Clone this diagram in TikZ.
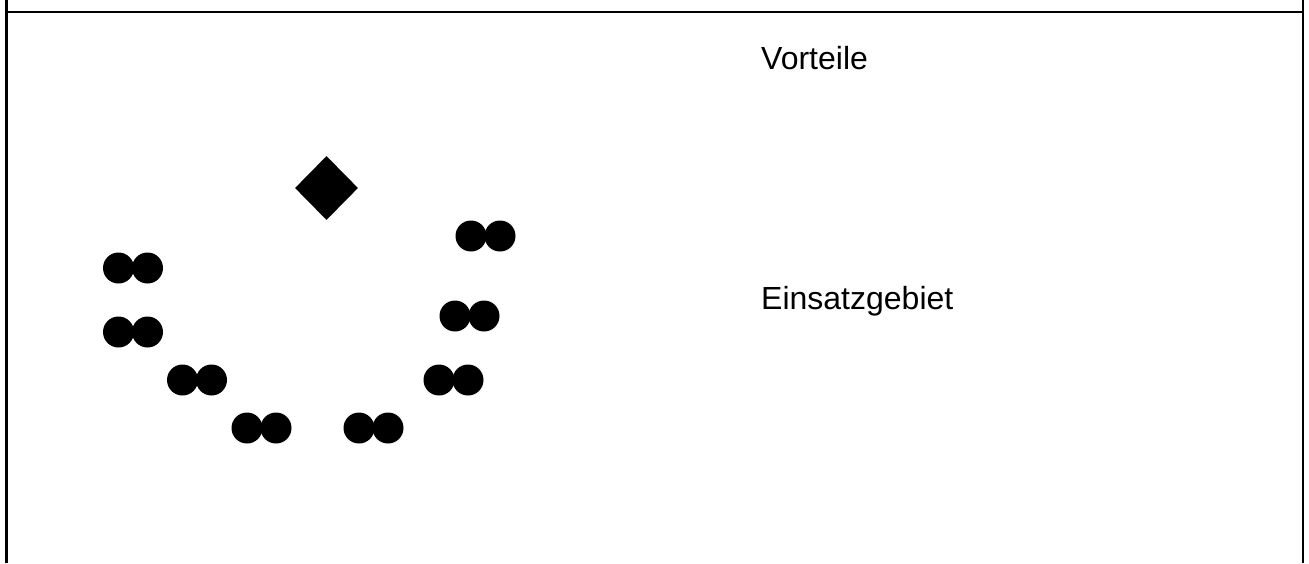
\documentclass[tikz,border=0pt]{standalone}
\usepackage{fontspec}
\setmainfont{Liberation Sans}
\usetikzlibrary{shapes.geometric}
\begin{document}
\begin{tikzpicture}[x=1pt,y=-1pt,
  dot/.style={circle,fill=black,inner sep=0pt,minimum size=31pt},
  lbl/.style={anchor=base west,inner sep=0pt,font=\fontsize{32}{38}\selectfont},
  frame/.style={line width=2.6pt}]
\useasboundingbox (0,0) rectangle (1309,563);
\draw[frame] (6.5,0) -- (6.5,563);
\draw[frame] (1303,0) -- (1303,563);
\draw[frame] (6.5,12) -- (1303,12);
\node[diamond,fill=black,inner sep=0pt,minimum width=63pt,minimum height=64pt] (table) at (326.5,188) {};
\foreach \n/\x/\y in {a/133/268, b/133/332, c/197/380, d/261.5/428, e/373.5/428, f/453.5/380, g/469.5/316, h/485.5/236} {
  \node[dot] (\n1) at (\x-14.5,\y) {};
  \node[dot] (\n2) at (\x+14.5,\y) {};
}
\node[lbl] (vorteile) at (761,69) {Vorteile};
\node[lbl] (einsatz) at (761,309) {Einsatzgebiet};
\end{tikzpicture}
\end{document}
